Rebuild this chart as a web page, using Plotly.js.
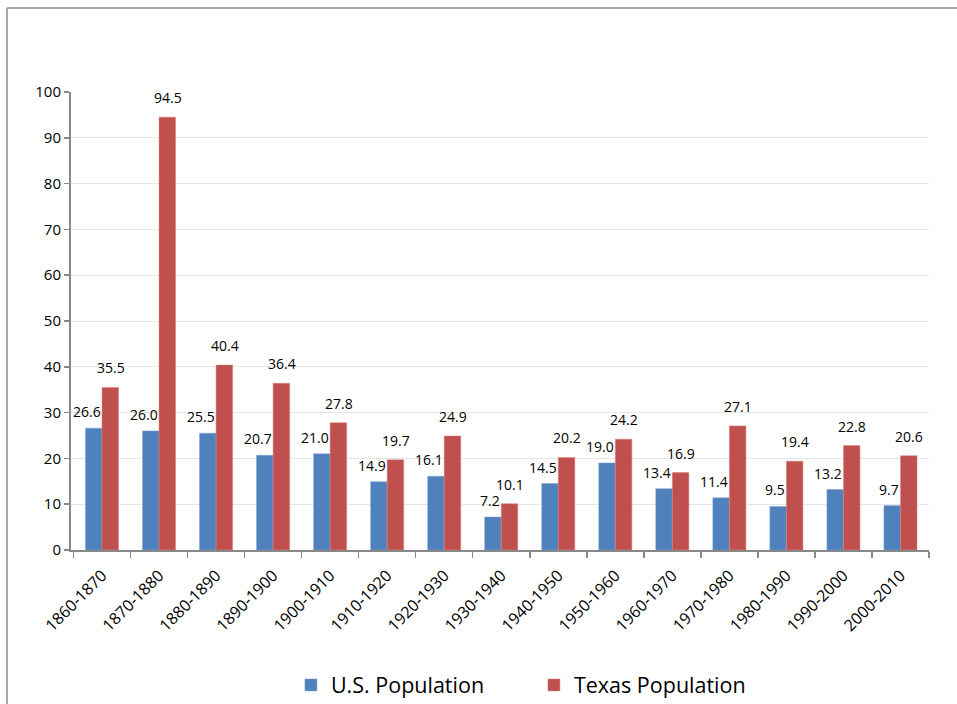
<!DOCTYPE html>
<html>
<head>
<meta charset="utf-8">
<script src="https://cdn.plot.ly/plotly-3.0.1.min.js"></script>
<style>
html, body { margin: 0; padding: 0; background: #fff; }
#chart { width: 957px; height: 704px; }
</style>
</head>
<body>
<div id="chart"></div>
<script>
var categories = ["1860-1870","1870-1880","1880-1890","1890-1900","1900-1910","1910-1920","1920-1930","1930-1940","1940-1950","1950-1960","1960-1970","1970-1980","1980-1990","1990-2000","2000-2010"];
var usValues = [26.6, 26.0, 25.5, 20.7, 21.0, 14.9, 16.1, 7.2, 14.5, 19.0, 13.4, 11.4, 9.5, 13.2, 9.7];
var texasValues = [35.5, 94.5, 40.4, 36.4, 27.8, 19.7, 24.9, 10.1, 20.2, 24.2, 16.9, 27.1, 19.4, 22.8, 20.6];
var yTicks = [0, 10, 20, 30, 40, 50, 60, 70, 80, 90, 100];

var font = "Open Sans, Liberation Sans, sans-serif";

var traces = [
  {
    type: "bar", name: "U.S. Population", x: categories, y: usValues,
    marker: { color: "#4F81BD", line: { color: "#7FA3D1", width: 0.5 } }
  },
  {
    type: "bar", name: "Texas Population", x: categories, y: texasValues,
    marker: { color: "#C0504D", line: { color: "#D98583", width: 0.5 } }
  }
];

// data labels placed through the axes (category, value)
var annotations = [];
categories.forEach(function(c, i) {
  annotations.push({
    x: c, y: usValues[i], xref: "x", yref: "y",
    text: usValues[i].toFixed(1), showarrow: false,
    xanchor: "right", yanchor: "bottom", xshift: 1, yshift: 5,
    font: { family: font, size: 14, color: "#000" }
  });
  annotations.push({
    x: c, y: texasValues[i], xref: "x", yref: "y",
    text: texasValues[i].toFixed(1), showarrow: false,
    xanchor: "center", yanchor: "bottom", xshift: 9, yshift: 8,
    font: { family: font, size: 14, color: "#000" }
  });
});

var layout = {
  width: 957, height: 704,
  margin: { l: 71, r: 28, t: 92, b: 154, autoexpand: false },
  paper_bgcolor: "#fff", plot_bgcolor: "#fff",
  font: { family: font, size: 15, color: "#000" },
  barmode: "group", bargap: 0.42, bargroupgap: 0,
  showlegend: true,
  legend: {
    orientation: "h", xref: "container", yref: "container",
    x: 0.304, xanchor: "left", y: 0.027, yanchor: "middle",
    font: { family: font, size: 21.5, color: "#000" },
    itemwidth: 30, traceorder: "normal", tracegroupgap: 0,
    entrywidth: 198
  },
  xaxis: {
    type: "category", tickangle: -45, automargin: false,
    tickfont: { family: font, size: 16 },
    showline: true, linecolor: "#888", linewidth: 2,
    ticks: "outside", tickson: "boundaries", ticklen: 6, tickcolor: "#888", tickwidth: 1.5,
    ticklabelstandoff: 8,
    showgrid: false, zeroline: false
  },
  yaxis: {
    range: [0, 100], tickvals: yTicks, ticktext: yTicks.map(String), automargin: false,
    tickfont: { family: font, size: 15 },
    showline: true, linecolor: "#888", linewidth: 2,
    ticks: "outside", ticklen: 5, tickcolor: "#888", tickwidth: 1.5,
    showgrid: true, gridcolor: "#e6e6e6", gridwidth: 1,
    zeroline: false
  },
  annotations: annotations,
  shapes: [
    { type: "line", xref: "paper", yref: "paper", x0: -0.0746, x1: -0.0746, y0: -0.35, y1: 1.1834, line: { color: "#8c8c8c", width: 1.5 } },
    { type: "line", xref: "paper", yref: "paper", x0: -0.0746, x1: 1.04, y0: 1.1834, y1: 1.1834, line: { color: "#8c8c8c", width: 1.5 } }
  ]
};

Plotly.newPlot("chart", traces, layout, { displayModeBar: false, staticPlot: true });
</script>
</body>
</html>
